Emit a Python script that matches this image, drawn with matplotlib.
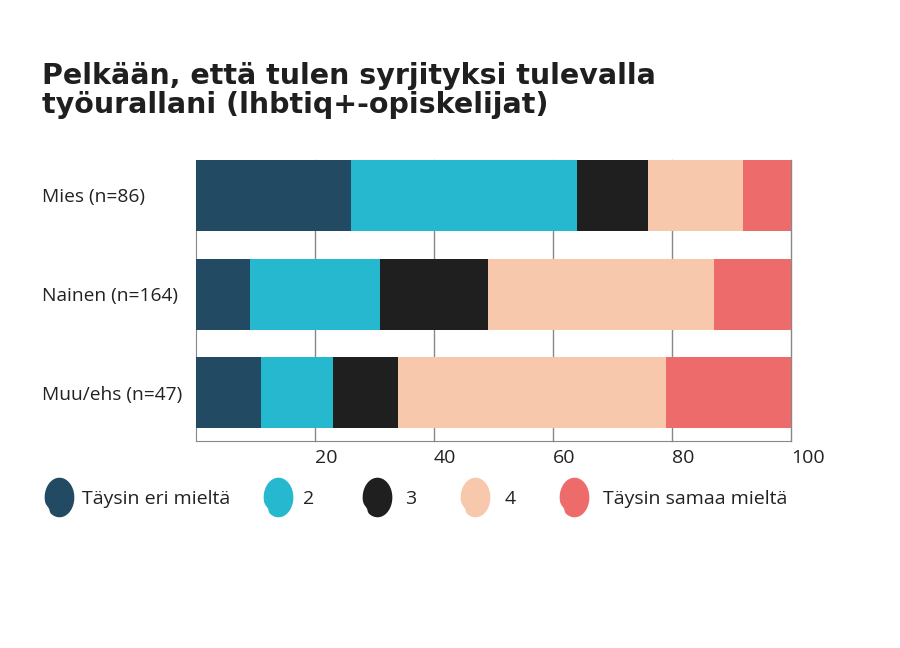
import matplotlib
matplotlib.use("Agg")
import matplotlib.pyplot as plt
import numpy as np
from matplotlib.path import Path
from matplotlib.lines import Line2D

categories = ["Mies (n=86)", "Nainen (n=164)", "Muu/ehs (n=47)"]
series_names = ["Täysin eri mieltä", "2", "3", "4", "Täysin samaa mieltä"]
values = {
    "Täysin eri mieltä": [26, 9, 11],
    "2": [38, 22, 12],
    "3": [12, 18, 11],
    "4": [16, 38, 45],
    "Täysin samaa mieltä": [8, 13, 21],
}
colors = ["#224A63", "#25B8CF", "#1F1F1F", "#F8C8AD", "#EE6B6B"]
xticks = [20, 40, 60, 80, 100]
title_lines = ["Pelkään, että tulen syrjityksi tulevalla",
               "työurallani (lhbtiq+-opiskelijat)"]

plt.rcParams['font.family'] = ['Open Sans', 'DejaVu Sans']
W, H = 900, 648
fig = plt.figure(figsize=(9, 6.48), dpi=100)
ax = fig.add_axes([196/W, 1-441/H, 595/W, 281/H])

y = np.arange(len(categories))
left = np.zeros(len(categories))
for name, c in zip(series_names, colors):
    v = np.array(values[name], dtype=float)
    ax.barh(y, v, left=left, height=0.72, color=c, zorder=3, linewidth=0)
    left += v

ax.set_xlim(0, 100)
ax.set_ylim(2.49, -0.36)
ax.set_xticks(xticks)
ax.set_xticklabels([str(t) for t in xticks], fontsize=14, color="#222222", ha="left")
ax.set_yticks(y)
ax.set_yticklabels(categories, fontsize=13.8, color="#222222", ha="left")
ax.tick_params(axis="y", length=0, pad=(196-42)*72/100)
ax.tick_params(axis="x", length=0, pad=6)
ax.grid(axis="x", color="#888888", linewidth=1, zorder=0)
for gl in ax.get_xgridlines():
    gl.set_clip_on(False)
ax.spines["top"].set_visible(False)
ax.spines["right"].set_visible(False)
ax.spines["left"].set_color("#888888")
ax.spines["bottom"].set_color("#888888")

# Title, fitted to reference width
renderer = fig.canvas.get_renderer()
fs = 18
tfam = ["DejaVu Sans"]
t1 = fig.text(42/W, 1-84/H, title_lines[0], fontsize=fs, fontweight="bold",
              family=tfam, color="#1F1F1F", va="baseline", ha="left")
wpx = t1.get_window_extent(renderer).width
fs = fs * 615 / wpx
t1.set_fontsize(fs)
fig.text(42/W, 1-113/H, title_lines[1], fontsize=fs, fontweight="bold",
         family=tfam, color="#1F1F1F", va="baseline", ha="left")

# Legend with head-shaped blob markers
t = np.linspace(0, 2*np.pi, 120)
notch = 1 - 0.14*np.exp(-((t - 3.75)/0.22)**2)
verts = np.column_stack([0.75*np.cos(t)*notch, np.sin(t)])
blob = Path(verts, closed=True)
blob_x = [59.5, 277.5, 377, 475, 574]
text_x = [82, 303, 405, 505, 603]
ly = 497
for name, c, bx, tx in zip(series_names, colors, blob_x, text_x):
    fig.add_artist(Line2D([bx/W], [1-ly/H], marker=blob, markersize=28.5,
                          linestyle="none", markerfacecolor=c,
                          markeredgewidth=0, transform=fig.transFigure))
    fig.text(tx/W, 1-ly/H, name, fontsize=14, color="#222222",
             va="center_baseline", ha="left")

fig.savefig("out.png", dpi=100, facecolor="white")
